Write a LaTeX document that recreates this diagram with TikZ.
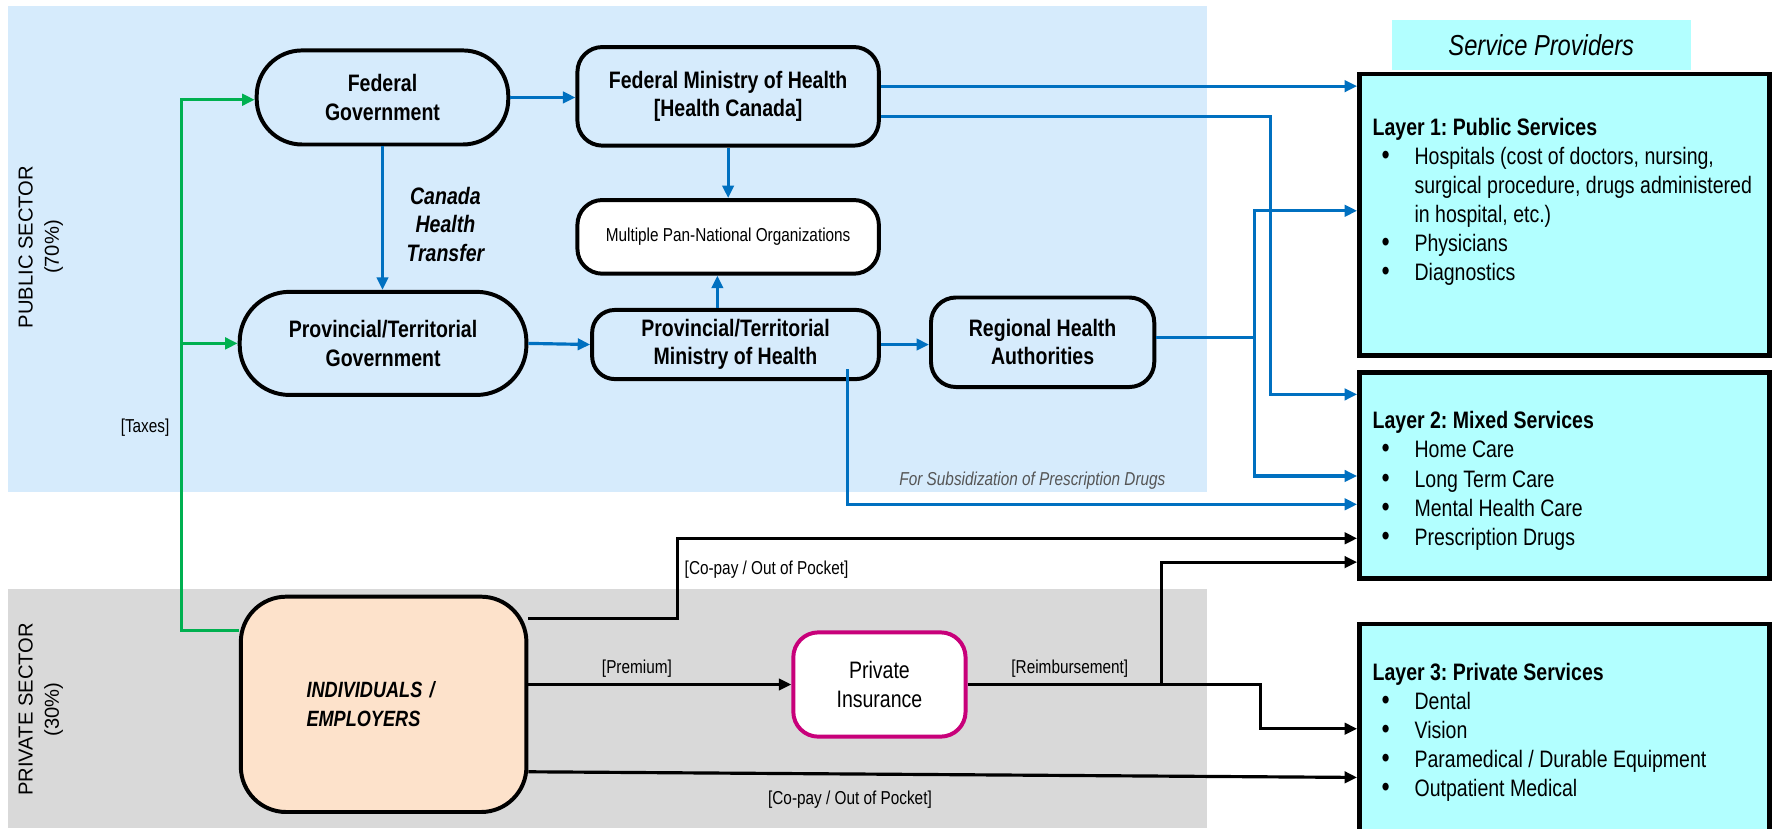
\documentclass[tikz,border=0pt]{standalone}
\usepackage{fontspec}
\setmainfont{Liberation Sans}[FakeStretch=0.82]
\newfontfamily\fullsans{Liberation Sans}
\usetikzlibrary{arrows.meta}
\definecolor{bgblue}{RGB}{214,235,252}
\definecolor{bggray}{RGB}{217,217,217}
\definecolor{peach}{RGB}{253,226,203}
\definecolor{aqua}{RGB}{178,255,255}
\definecolor{lineblue}{RGB}{0,112,192}
\definecolor{linegreen}{RGB}{0,176,80}
\definecolor{magen}{RGB}{200,0,122}
\definecolor{subgray}{RGB}{85,85,85}
\newcommand{\lbul}{\makebox[37pt][l]{\hspace*{8pt}{\fontsize{25}{0}\selectfont\textbullet}}}
\newcommand{\lcont}{\hspace*{37pt}}
\frenchspacing
\begin{document}
\begin{tikzpicture}[x=1pt,y=-1pt,
  box/.style={draw=black, line width=3.5pt, fill=bgblue, rounded corners=22pt, inner sep=0pt, align=center, font=\fontsize{21}{25}\selectfont\bfseries},
  stad/.style={box, rounded corners=40pt},
  layer/.style={draw=black, line width=4pt, fill=aqua, inner sep=0pt, rectangle},
  ltext/.style={font=\fontsize{21}{25.7}\selectfont, align=left, inner sep=0pt, anchor=north west},
  lab/.style={font=\fontsize{16.5}{18}\selectfont, inner sep=0pt},
  bl/.style={draw=lineblue, line width=2.8pt},
  bk/.style={draw=black, line width=2.8pt},
  gr/.style={draw=linegreen, line width=2.8pt},
  arr/.style={-{Triangle[length=11pt,width=10pt]}}
]
\useasboundingbox (0,0) rectangle (1568,731);
\fill[white] (0,0) rectangle (1568,731);
\fill[bgblue] (7,5) rectangle (1065,434);
\fill[bggray] (7,520) rectangle (1065,731);

% sector labels
\node[rotate=90, align=center, font=\fullsans\fontsize{17.8}{23}\selectfont, inner sep=0pt] (pub) at (36,218) {PUBLIC SECTOR\\(70\%)};
\node[rotate=90, align=center, font=\fullsans\fontsize{17.8}{23}\selectfont, inner sep=0pt] (priv) at (36,626) {PRIVATE SECTOR\\(30\%)};

% public nodes
\node[stad, minimum width=222pt, minimum height=83pt] (fg) at (337.5,86) {Federal\\Government};
\node[box, minimum width=266pt, minimum height=87pt] (fm) at (642.5,85) {Federal Ministry of Health\\{[Health Canada]}};
\node[box, fill=white, minimum width=266pt, minimum height=65pt, font=\fontsize{16.5}{18}\selectfont] (mp) at (642.5,209) {Multiple Pan-National Organizations};
\node[stad, minimum width=253pt, minimum height=91pt, rounded corners=44pt] (pg) at (338,303) {Provincial/Territorial\\Government};
\node[box, minimum width=253pt, minimum height=61pt, rounded corners=20pt] (pm) at (649,304) {Provincial/Territorial\\Ministry of Health};
\node[box, minimum width=197pt, minimum height=79pt] (rh) at (920,302) {Regional Health\\Authorities};
\node[font=\fontsize{21}{25}\selectfont\bfseries\itshape, align=center, inner sep=0pt] (cht) at (393,198) {Canada\\Health\\Transfer};

% private nodes
\node[box, fill=peach, minimum width=252pt, minimum height=190pt, rounded corners=40pt, font=\fontsize{19.5}{26}\selectfont\bfseries\itshape, text width=136pt, align=left] (ind) at (338.5,621.5) {INDIVIDUALS /\\EMPLOYERS};
\node[box, draw=magen, fill=white, minimum width=152pt, minimum height=92pt, font=\fontsize{21}{25}\selectfont] (pi) at (776,604) {Private\\Insurance};

% service providers
\node[fill=aqua, minimum width=264pt, minimum height=44pt, inner sep=0pt, font=\fontsize{25.5}{28}\selectfont\itshape] (sp) at (1360,40) {Service Providers};
\node[layer, minimum width=362pt, minimum height=248pt] (l1) at (1380.5,189.5) {};
\node[layer, minimum width=362pt, minimum height=182pt] (l2) at (1380.5,419.5) {};
\node[layer, minimum width=362pt, minimum height=200pt, anchor=north] (l3) at (1380.5,548.5) {};

\node[ltext] (t1) at (1211,104) {{\bfseries Layer 1: Public Services}\\
\lbul Hospitals (cost of doctors, nursing,\\
\lcont surgical procedure, drugs administered\\
\lcont in hospital, etc.)\\
\lbul Physicians\\
\lbul Diagnostics};
\node[ltext] (t2) at (1211,363) {{\bfseries Layer 2: Mixed Services}\\
\lbul Home Care\\
\lbul Long Term Care\\
\lbul Mental Health Care\\
\lbul Prescription Drugs};
\node[ltext] (t3) at (1211,585) {{\bfseries Layer 3: Private Services}\\
\lbul Dental\\
\lbul Vision\\
\lbul Paramedical / Durable Equipment\\
\lbul Outpatient Medical};

% blue connectors
\draw[bl,arr] (fg.east) -- (fg.east -| fm.west);
\draw[bl,arr] (fg.south) -- (fg.south |- pg.north);
\draw[bl,arr] (fm.south) -- (mp.north);
\draw[bl,arr] (pm.north -| 633,0) -- (mp.south -| 633,0);
\draw[bl,arr] (pg.east) -- (pm.west);
\draw[bl,arr] (pm.east) -- (pm.east -| rh.west);
\draw[bl,arr] (fm.east |- 0,76) -- (l1.west |- 0,76);
\draw[bl,arr] (fm.east |- 0,103) -| (1121,348) -- (l2.west |- 0,348);
\draw[bl] (rh.east |- 0,298) -- (1107,298);
\draw[bl,arr] (1107,298) |- (l1.west |- 0,186);
\draw[bl,arr] (1107,298) |- (l2.west |- 0,420);
\coordinate (drugstart) at (748,326);
\draw[bl,arr] (drugstart) |- (l2.west |- 0,445);
\node[lab, font=\fontsize{16.5}{18}\selectfont\itshape, text=subgray] (sub) at (911,424) {For Subsidization of Prescription Drugs};

% green connectors
\draw[gr,arr] (ind.west |- 0,556) -| (160,88) -- (fg.west |- 0,88);
\draw[gr,arr] (160,303) -- (pg.west);
\node[lab] (tax) at (128,377) {[Taxes]};

% black connectors
\draw[bk,arr] (ind.east |- 0,546) -| (598,475) -- (l2.west |- 0,475);
\node[lab, anchor=west] (cp1) at (604,503) {[Co-pay / Out of Pocket]};
\draw[bk,arr] (ind.east |- pi.west) -- (pi.west);
\node[lab] (prem) at (562,590) {[Premium]};
\draw[bk,arr] (pi.east) -- (1112,604) |- (l3.west |- 0,643);
\draw[bk,arr] (1025,604) |- (l2.west |- 0,496);
\node[lab] (reim) at (944,590) {[Reimbursement]};
\draw[bk,arr] (ind.east |- 0,681) -- (l3.west |- 0,686);
\node[lab] (cp2) at (750,706) {[Co-pay / Out of Pocket]};
\end{tikzpicture}
\end{document}
